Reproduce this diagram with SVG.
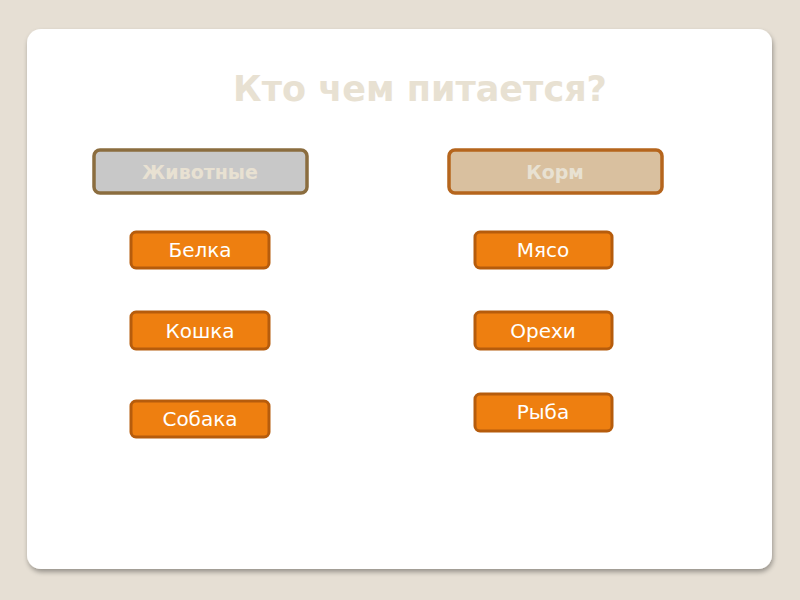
<svg xmlns="http://www.w3.org/2000/svg" width="800" height="600" viewBox="0 0 800 600">
<defs>
<filter id="sh" x="-5%" y="-5%" width="110%" height="110%">
<feGaussianBlur in="SourceAlpha" stdDeviation="2.5"/>
<feOffset dx="1" dy="3"/>
<feComponentTransfer><feFuncA type="linear" slope="0.35"/></feComponentTransfer>
<feMerge><feMergeNode/><feMergeNode in="SourceGraphic"/></feMerge>
</filter>
<style>
.t{font-family:"DejaVu Sans","Noto Sans",sans-serif;text-anchor:middle;dominant-baseline:central}
.head{font-weight:bold;font-size:19px;fill:#E8E1D2}
.item rect{fill:#EE7F10;stroke:#B65C0C;stroke-width:3}
.item text{font-size:20px;fill:#FFFFFF}
</style>
</defs>
<rect width="800" height="600" fill="#E6DFD4"/>
<rect x="27" y="29" width="745" height="540" rx="14" fill="#FFFFFF" filter="url(#sh)"/>
<text class="t" x="420" y="89" style="font-weight:bold;font-size:35px;fill:#E8E1D2">Кто чем питается?</text>
<g id="animals"><rect x="94" y="150" width="213" height="43" rx="6" fill="#C8C8C8" stroke="#8B6D3F" stroke-width="3.5"/><text class="t head" x="200" y="172">Животные</text></g>
<g id="food"><rect x="449" y="150" width="213" height="43" rx="6" fill="#D9C09F" stroke="#B5651D" stroke-width="3.5"/><text class="t head" x="555" y="172">Корм</text></g>
<g id="belka" class="item"><rect x="131" y="232" width="138" height="36" rx="5"/><text class="t" x="200" y="250">Белка</text></g>
<g id="koshka" class="item"><rect x="131" y="312" width="138" height="37" rx="5"/><text class="t" x="200" y="331">Кошка</text></g>
<g id="sobaka" class="item"><rect x="131" y="401" width="138" height="36" rx="5"/><text class="t" x="200" y="419">Собака</text></g>
<g id="myaso" class="item"><rect x="475" y="232" width="137" height="36" rx="5"/><text class="t" x="543" y="250">Мясо</text></g>
<g id="orehi" class="item"><rect x="475" y="312" width="137" height="37" rx="5"/><text class="t" x="543" y="331">Орехи</text></g>
<g id="ryba" class="item"><rect x="475" y="394" width="137" height="37" rx="5"/><text class="t" x="543" y="412">Рыба</text></g>
<g id="connectors"></g>
</svg>
